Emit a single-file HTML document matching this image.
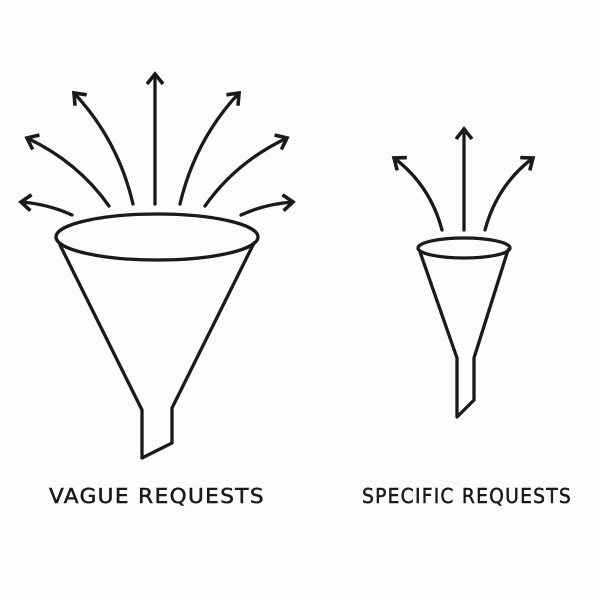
<!DOCTYPE html>
<html><head><style>
html,body{margin:0;padding:0;background:#fcfcfb;}
svg{display:block}
text{font-family:"DejaVu Sans","Liberation Sans",sans-serif;font-size:20px;fill:#1a1a1a;letter-spacing:1.3px;stroke:#1a1a1a;stroke-width:0.5px}
</style></head><body>
<svg width="600" height="600" viewBox="0 0 600 600" xmlns="http://www.w3.org/2000/svg">
<defs>
<marker id="a" markerUnits="userSpaceOnUse" markerWidth="24" markerHeight="24" refX="12" refY="9" orient="auto">
<path d="M2,1 L12,9 L2,17" fill="none" stroke="#1a1a1a" stroke-width="3.6" stroke-linejoin="miter"/>
</marker>
</defs>
<g fill="none" stroke="#1a1a1a" stroke-width="3.3" stroke-linecap="round" stroke-linejoin="round">
<ellipse cx="157" cy="237" rx="101" ry="23"/>
<path d="M60,245 L142,410 L142,458 L172,443 L172,408 L254,243"/>
<path d="M72,215 Q48,204 21,202" marker-end="url(#a)"/>
<path d="M109,206 Q78,162 27,138" marker-end="url(#a)"/>
<path d="M133,204 Q118,140 74,93" marker-end="url(#a)"/>
<path d="M155,204 L155,74" marker-end="url(#a)"/>
<path d="M180,204 Q195,140 239,93" marker-end="url(#a)"/>
<path d="M205,206 Q236,162 287,138" marker-end="url(#a)"/>
<path d="M241,215 Q265,204 293,202" marker-end="url(#a)"/>
<ellipse cx="464" cy="248" rx="46" ry="10"/>
<path d="M420,252 L457,358 L457,417 L474,400 L474,358 L508,250"/>
<path d="M464,230 L464,129" marker-end="url(#a)"/>
<path d="M442,230 Q430,185 394,158" marker-end="url(#a)"/>
<path d="M485,230 Q497,185 533,158" marker-end="url(#a)"/>
</g>
<text x="157" y="503" text-anchor="middle" textLength="216" lengthAdjust="spacingAndGlyphs">VAGUE REQUESTS</text>
<text x="467" y="503" text-anchor="middle" textLength="210" lengthAdjust="spacingAndGlyphs">SPECIFIC REQUESTS</text>
</svg>
</body></html>
